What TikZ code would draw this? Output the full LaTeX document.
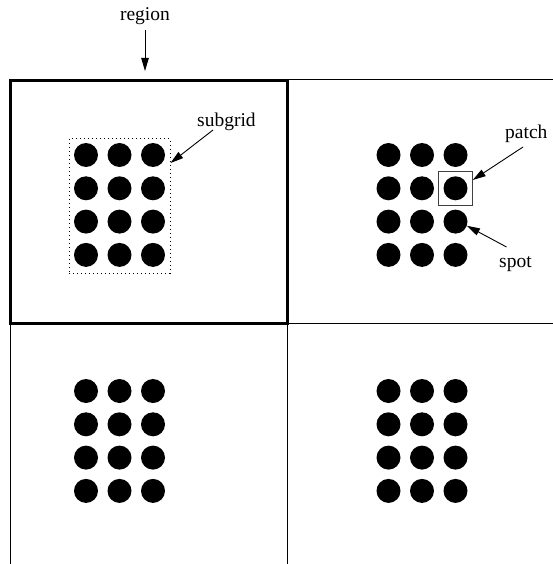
\documentclass[tikz,border=0pt]{standalone}
\usepackage{fontspec}
\setmainfont{Liberation Serif}
\usetikzlibrary{arrows.meta}
\begin{document}
\begin{tikzpicture}[x=1pt,y=-1pt,
  thinline/.style={line width=1pt,black},
  thickline/.style={line width=3pt,black},
  spotdot/.style={circle,fill=black,draw=none,inner sep=0pt,minimum size=24pt},
  lbl/.style={font=\fontsize{19.5pt}{22pt}\selectfont,inner sep=0pt,anchor=base west},
  arr/.style={line width=0.9pt,-{Triangle[length=13pt,width=7.5pt]}},
  subgridbox/.style={draw,line width=1pt,dash pattern=on 1pt off 3pt,inner sep=0pt},
  patchbox/.style={draw=black!75,line width=1pt,inner sep=0pt,minimum size=33.5pt}
]
\useasboundingbox (0,0) rectangle (553,564);
% grid lines
\coordinate (tlA) at (10.5,80.5);
\coordinate (tlB) at (287.5,323.5);
\draw[thinline] (287.5,79.5) -- (553,79.5);
\draw[thinline] (287.5,323.5) -- (553,323.5);
\draw[thinline] (10.5,323.5) -- (10.5,564);
\draw[thinline] (287.5,323.5) -- (287.5,564);
\draw[thickline] (tlA) rectangle (tlB);
% dot grids
\foreach \g/\xa/\ya in {tl/86/155, tr/388.5/155, bl/86/391, br/388.5/391}{
  \foreach \r in {0,1,2,3}{
    \foreach \c in {0,1,2}{
      \node[spotdot] (\g-\r-\c) at ({\xa+33.5*\c},{\ya+33.3*\r}) {};
    }
  }
}
% subgrid dotted box
\node[subgridbox,fit/.style={}] (subgrid) at (119.5,206) [minimum width=101pt,minimum height=134pt] {};
% patch box
\node[patchbox] (patch) at (tr-1-2) {};
% labels
\node[lbl,anchor=base] (regionlbl) at (145,21) {region};
\node[lbl] (subgridlbl) at (197,127) {subgrid};
\node[lbl] (patchlbl) at (505,139) {patch};
\node[lbl] (spotlbl) at (499,267) {spot};
% arrow end points
\coordinate (regionstart) at (145,30);
\coordinate (regiontip) at (145,71);
\coordinate (subgridstart) at (213,130);
\coordinate (subgridtip) at (subgrid.east |- 0,163);
\coordinate (patchstart) at (523,147);
\coordinate (patchtip) at (patch.east |- 0,180);
\coordinate (spotstart) at (506.5,247);
% arrows
\draw[arr] (regionstart) -- (regiontip);
\draw[arr] (subgridstart) -- (subgridtip);
\draw[arr] (patchstart) -- (patchtip);
\draw[arr] (spotstart) -- (tr-2-2.-20);
\end{tikzpicture}
\end{document}
